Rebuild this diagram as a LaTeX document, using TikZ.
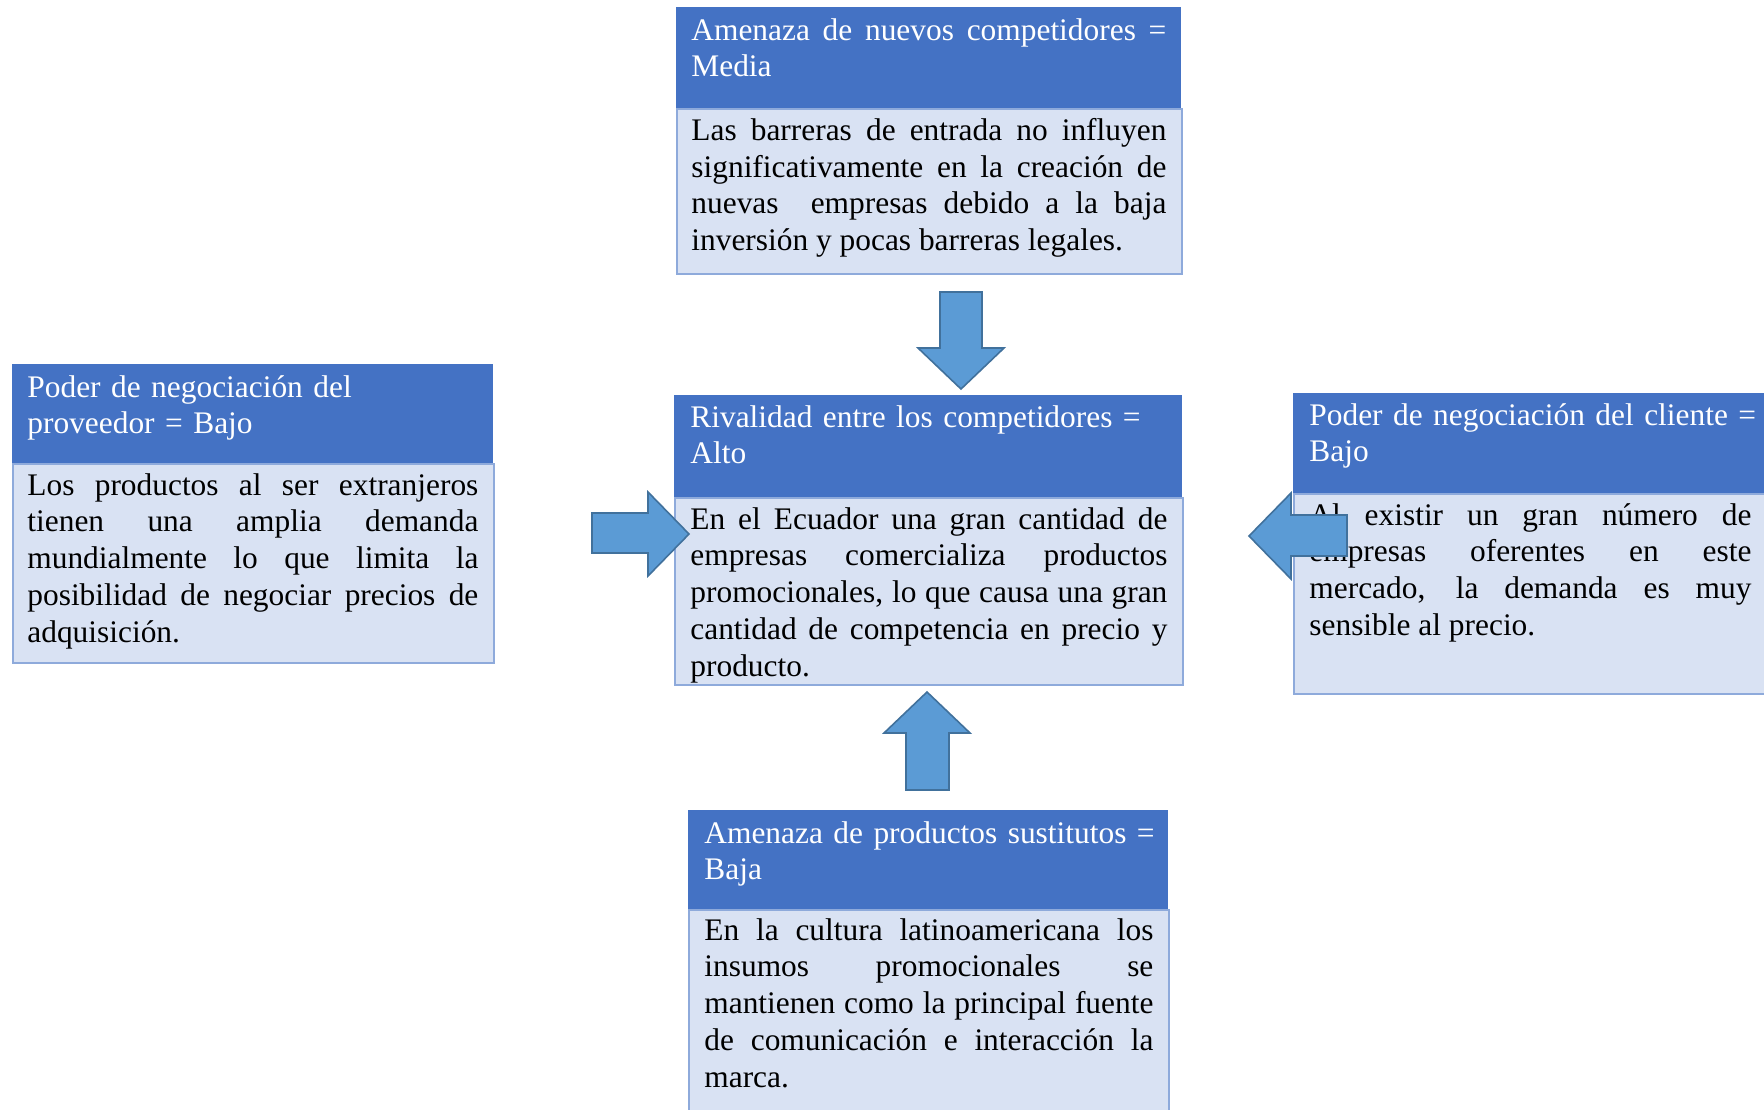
\documentclass[tikz,border=0pt]{standalone}
\usepackage{fontspec}
\setmainfont{Liberation Serif}
\definecolor{hdrc}{HTML}{4472C4}
\definecolor{bdyc}{HTML}{D9E2F3}
\definecolor{bdylinec}{HTML}{8EAADB}
\definecolor{arrfillc}{HTML}{5B9BD5}
\definecolor{arrlinec}{HTML}{41719C}
\begin{document}
\begin{tikzpicture}[x=0.5pt,y=-0.5pt,
  hdrbox/.style={fill=hdrc, draw=none, inner sep=0pt, anchor=north west},
  bodybox/.style={fill=bdyc, draw=bdylinec, line width=1pt, inner sep=0pt, anchor=north west},
  htext/.style={anchor=north west, inner sep=0pt, text=white, font=\fontsize{15.7}{18.35}\selectfont, align=left},
  hjtext/.style={anchor=north west, inner sep=0pt, text=white, font=\fontsize{15.7}{18.35}\selectfont, align=justify},
  btext/.style={anchor=north west, inner sep=0pt, text=black, font=\fontsize{15.7}{18.35}\selectfont, align=justify},
  blockarrow/.style={fill=arrfillc, draw=arrlinec, line width=0.8pt, line join=miter}]
\useasboundingbox (0,0) rectangle (1764,1109);
\fill[white] (0,0) rectangle (1764,1109);

% top box
\node[hdrbox, minimum width=252.5pt, minimum height=50.5pt] (topH) at (676,7) {};
\node[bodybox, minimum width=252.5pt, minimum height=82.5pt] (topB) at (676,108) {};
\node[hjtext, text width=237.5pt] (topHt) at (691,18) {Amenaza de nuevos competidores =\linebreak Media};
\node[btext, text width=237.5pt] (topBt) at (691,118) {Las barreras de entrada no influyen\linebreak significativamente en la creación de\linebreak nuevas \ empresas debido a la baja\linebreak inversión y pocas barreras legales.};

% center box
\node[hdrbox, minimum width=254pt, minimum height=51pt] (cenH) at (674,395) {};
\node[bodybox, minimum width=254pt, minimum height=93.5pt] (cenB) at (674,497) {};
\node[htext, text width=238.5pt] (cenHt) at (690,405) {Rivalidad entre los competidores =\\ Alto};
\node[btext, text width=238.5pt] (cenBt) at (690,507) {En el Ecuador una gran cantidad de\linebreak empresas comercializa productos\linebreak promocionales, lo que causa una gran\linebreak cantidad de competencia en precio y\linebreak producto.};

% left box
\node[hdrbox, minimum width=240.5pt, minimum height=49.5pt] (lefH) at (12,364) {};
\node[bodybox, minimum width=240.5pt, minimum height=99.5pt] (lefB) at (12,463) {};
\node[htext, text width=225.5pt] (lefHt) at (27,375) {Poder de negociación del\\ proveedor = Bajo};
\node[btext, text width=225.5pt] (lefBt) at (27,473) {Los productos al ser extranjeros\linebreak tienen una amplia demanda\linebreak mundialmente lo que limita la\linebreak posibilidad de negociar precios de\linebreak adquisición.};

% right box
\node[hdrbox, minimum width=237.5pt, minimum height=50pt] (rigH) at (1293,393) {};
\node[bodybox, minimum width=237.5pt, minimum height=100pt] (rigB) at (1293,493) {};
\node[htext, text width=235pt] (rigHt) at (1309,403) {Poder de negociación del cliente =\\ Bajo};
\node[btext, text width=221pt] (rigBt) at (1309,503) {Al existir un gran número de\linebreak empresas oferentes en este\linebreak mercado, la demanda es muy\linebreak sensible al precio.};

% bottom box
\node[hdrbox, minimum width=240pt, minimum height=49.5pt] (botH) at (688,810) {};
\node[bodybox, minimum width=240pt, minimum height=105.5pt] (botB) at (688,909) {};
\node[htext, text width=235pt] (botHt) at (704,821) {Amenaza de productos sustitutos =\\ Baja};
\node[btext, text width=224.5pt] (botBt) at (704,918) {En la cultura latinoamericana los\linebreak insumos promocionales se\linebreak mantienen como la principal fuente\linebreak de comunicación e interacción la\linebreak marca.};

% block arrows
\draw[blockarrow] (940,292) -- (982,292) -- (982,348) -- (1004,348) -- (961,389) -- (918,348) -- (940,348) -- cycle;
\draw[blockarrow] (906,790) -- (949,790) -- (949,733) -- (970,733) -- (927,692) -- (884,733) -- (906,733) -- cycle;
\draw[blockarrow] (592,513) -- (648,513) -- (648,492) -- (689,534) -- (648,576) -- (648,553) -- (592,553) -- cycle;
\draw[blockarrow] (1347,515) -- (1291,515) -- (1291,493) -- (1249,536) -- (1291,579) -- (1291,556) -- (1347,556) -- cycle;
\end{tikzpicture}
\end{document}
